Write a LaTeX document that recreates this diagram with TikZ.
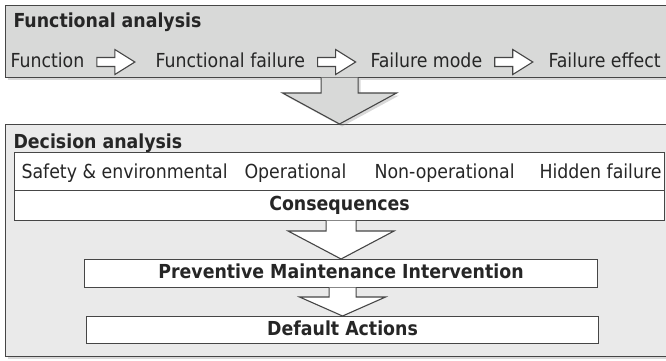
\documentclass[tikz,border=0pt]{standalone}
\usepackage{fontspec}
\setmainfont{DejaVu Sans Condensed}
\usetikzlibrary{calc,shadows}

\definecolor{boxgray}{RGB}{216,217,216}
\definecolor{panelgray}{RGB}{234,234,234}
\definecolor{edgegray}{RGB}{70,70,70}
\definecolor{textgray}{RGB}{38,38,38}

% block arrow downwards: #1 top, #2 tip, #3 shaft half width, #4 head half width, #5 head depth, #6 style
\newcommand{\downblock}[6]{%
	\path[#6] let \p1=(#1), \p2=(#2) in
		(\x2-#3pt,\y1+0.6pt) -- (\x2-#3pt,\y2+#5pt) -- (\x2-#4pt,\y2+#5pt) -- (\x2,\y2)
		-- (\x2+#4pt,\y2+#5pt) -- (\x2+#3pt,\y2+#5pt) -- (\x2+#3pt,\y1+0.6pt);}
% small block arrow to the right, after label #1
\newcommand{\rightblock}[1]{%
	\path[whitearrow] let \p1=(#1.east) in
		(\x1+12pt,\y1+4.5pt) -- (\x1+30pt,\y1+4.5pt) -- (\x1+30pt,\y1+12.5pt) -- (\x1+50pt,\y1)
		-- (\x1+30pt,\y1-12.5pt) -- (\x1+30pt,\y1-4.5pt) -- (\x1+12pt,\y1-4.5pt) -- cycle;}

\begin{document}
\begin{tikzpicture}[x=1pt, y=-1pt, line width=1.1pt,
	every node/.style={font=\fontsize{19.3}{21}\selectfont, text=textgray},
	panel/.style={draw=edgegray, anchor=north west, inner sep=0pt,
		drop shadow={shadow xshift=2.5pt, shadow yshift=-2.5pt, opacity=0.3}},
	rowbox/.style={draw=edgegray, fill=white, anchor=north west, inner sep=0pt,
		text height=1.03em, text depth=0pt, font=\fontsize{19.3}{21}\selectfont\bfseries},
	rowlabel/.style={anchor=west, inner sep=0pt, text height=1.03em, text depth=0pt},
	paneltitle/.style={rowlabel, font=\fontsize{19.3}{21}\selectfont\bfseries},
	bigarrow/.style={fill=boxgray, draw=edgegray,
		drop shadow={shadow xshift=2.5pt, shadow yshift=-2.5pt, opacity=0.3}},
	whitearrow/.style={fill=white, draw=edgegray}]
	\useasboundingbox (0,0) rectangle (666,360);

	% functional analysis
	\node[panel, fill=boxgray, minimum width=662pt, minimum height=72pt] (fa) at (5,5) {};
	\node[paneltitle] (fa-title) at (13,22) {Functional analysis};
	\foreach \lbl/\x/\lab in {f1/10/Function, f2/155/Functional failure, f3/370/Failure mode, f4/548/Failure effect} {
		\node[rowlabel] (\lbl) at (\x,62) {\lab};
	}
	\foreach \lbl in {f1,f2,f3} {
		\rightblock{\lbl}
	}

	% decision analysis
	\node[panel, fill=panelgray, minimum width=662pt, minimum height=232pt] (da) at (5,124) {};
	\node[paneltitle] (da-title) at (13,143.5) {Decision analysis};
	\node[rowbox, minimum width=650pt, minimum height=38pt] (sev) at (14,152) {};
	\foreach \lbl/\x/\lab in {c1/21/Safety \& environmental, c2/244/Operational, c3/374/Non-operational, c4/539/Hidden failure} {
		\node[rowlabel] (\lbl) at (\x,173.5) {\lab};
	}
	\node[rowbox, minimum width=650pt, minimum height=30pt] (cons) at (14,190) {Consequences};
	\node[rowbox, minimum width=513pt, minimum height=28pt] (pmi) at (84,259) {Preventive Maintenance Intervention};
	\node[rowbox, minimum width=512pt, minimum height=27pt] (def) at (86,316) {Default Actions};

	% block arrows
	\downblock{fa.south -| cons.north}{da.north -| cons.north}{18.5}{57}{31}{bigarrow}
	\downblock{cons.south}{pmi.north}{15}{53}{28}{whitearrow}
	\downblock{pmi.south}{def.north}{13.5}{43}{19}{whitearrow}
\end{tikzpicture}
\end{document}
